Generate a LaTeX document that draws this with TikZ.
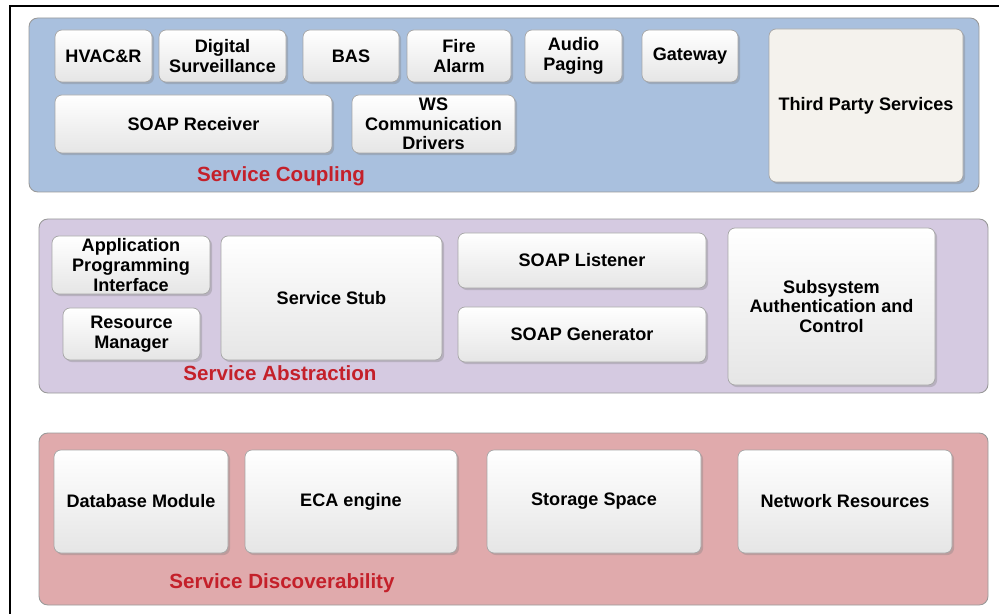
\documentclass[tikz,border=0pt]{standalone}
\usepackage{fontspec}
\setmainfont{Liberation Sans}
\usepackage{tikz}
\usetikzlibrary{fit, shadows}

\definecolor{couplingblue}{RGB}{169,192,222}
\definecolor{abstractlilac}{RGB}{213,202,225}
\definecolor{discoverpink}{RGB}{224,170,172}
\definecolor{layerred}{RGB}{196,32,42}
\definecolor{thirdfill}{RGB}{244,242,237}

\begin{document}
\begin{tikzpicture}[x=0.02cm,y=-0.02cm,
    layer/.style={draw=black!40, rounded corners=5pt, inner sep=0pt, line width=0.5pt},
    module/.style={draw=black!35, rounded corners=4pt, inner sep=0pt,
      top color=white, bottom color=black!10, line width=0.4pt,
      drop shadow={shadow xshift=1.2pt, shadow yshift=-1.2pt, opacity=0.35}},
    modtext/.style={align=center, inner sep=0pt, font=\fontsize{10.3}{11.2}\selectfont\bfseries},
    layername/.style={text=layerred, font=\fontsize{11.7}{13}\selectfont\bfseries}]
  \useasboundingbox (0,0) rectangle (999,614);
  \draw[line width=0.9pt] (10,640) -- (10,6) -- (1020,6);

  % service coupling
  \node[layer, fill=couplingblue, fit={(29,18) (979,192)}] (coupling) {};
  \node[module, fit={(55,30) (152,82)}, label={[modtext]center:HVAC\&R}] (hvac) {};
  \node[module, fit={(159,30) (286,82)}, label={[modtext]center:{Digital\\Surveillance}}] (surv) {};
  \node[module, fit={(303,30) (399,82)}, label={[modtext]center:BAS}] (bas) {};
  \node[module, fit={(407,30) (511,82)}, label={[modtext]center:{Fire\\Alarm}}] (fire) {};
  \node[module, fit={(525,30) (622,82)}, label={[modtext]center:{Audio\\Paging}}] (audio) {};
  \node[module, fit={(642,30) (738,82)}, label={[modtext]center:Gateway}] (gateway) {};
  \node[module, fit={(55,95) (332,153)}, label={[modtext]center:SOAP Receiver}] (receiver) {};
  \node[module, fit={(352,95) (515,153)}, label={[modtext]center:{WS\\Communication\\Drivers}}] (drivers) {};
  \node[module, top color=thirdfill, bottom color=thirdfill, fit={(769,29) (963,182)},
    label={[modtext]center:Third Party Services}] (third) {};
  \node[layername] (couplingname) at (281,176) {Service Coupling};

  % service abstraction
  \node[layer, fill=abstractlilac, fit={(39,219) (988,393)}] (abstraction) {};
  \node[module, fit={(52,236) (210,294)}, label={[modtext]center:{Application\\Programming\\Interface}}] (api) {};
  \node[module, fit={(63,308) (200,360)}, label={[modtext]center:{Resource\\Manager}}] (resource) {};
  \node[module, fit={(221,236) (442,360)}, label={[modtext]center:Service Stub}] (stub) {};
  \node[module, fit={(458,233) (706,288)}, label={[modtext]center:SOAP Listener}] (listener) {};
  \node[module, fit={(458,307) (706,362)}, label={[modtext]center:SOAP Generator}] (generator) {};
  \node[module, fit={(728,228) (935,385)}, label={[modtext]center:{Subsystem\\Authentication and\\Control}}] (auth) {};
  \node[layername] (abstractionname) at (280,373) {Service Abstraction};

  % service discoverability
  \node[layer, fill=discoverpink, fit={(39,433) (988,605)}] (discover) {};
  \node[module, fit={(54,450) (228,553)}, label={[modtext]center:Database Module}] (database) {};
  \node[module, fit={(245,450) (457,553)}, label={[modtext]center:ECA engine}] (eca) {};
  \node[module, fit={(487,450) (701,553)}, label={[modtext]center:Storage Space}] (storage) {};
  \node[module, fit={(738,450) (952,553)}, label={[modtext]center:Network Resources}] (network) {};
  \node[layername] (discovername) at (282,583) {Service Discoverability};
\end{tikzpicture}
\end{document}
